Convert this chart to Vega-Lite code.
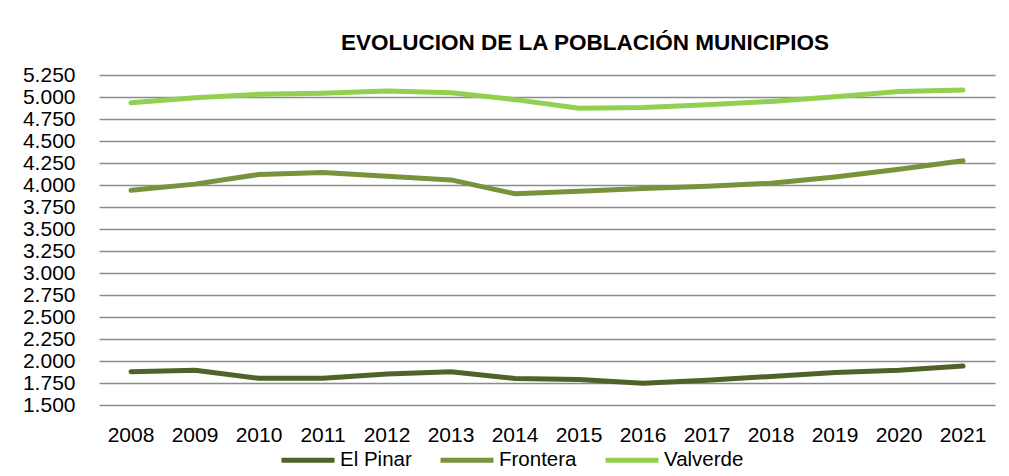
{
  "$schema": "https://vega.github.io/schema/vega-lite/v6.json",
  "width": 896,
  "height": 330,
  "autosize": {"type": "none"},
  "padding": {"left": 99, "top": 75, "right": 14, "bottom": 71},
  "background": "white",
  "title": {
    "text": "EVOLUCION DE LA POBLACIÓN MUNICIPIOS",
    "font": "Liberation Sans",
    "fontSize": 22.5,
    "fontWeight": "bold",
    "color": "#000000",
    "anchor": "middle",
    "dx": 38,
    "offset": 10
  },
  "data": {
    "values": [
      {"year": "2008", "municipio": "El Pinar", "pob": 1878},
      {"year": "2009", "municipio": "El Pinar", "pob": 1896},
      {"year": "2010", "municipio": "El Pinar", "pob": 1803},
      {"year": "2011", "municipio": "El Pinar", "pob": 1805},
      {"year": "2012", "municipio": "El Pinar", "pob": 1852},
      {"year": "2013", "municipio": "El Pinar", "pob": 1878},
      {"year": "2014", "municipio": "El Pinar", "pob": 1802},
      {"year": "2015", "municipio": "El Pinar", "pob": 1790},
      {"year": "2016", "municipio": "El Pinar", "pob": 1746},
      {"year": "2017", "municipio": "El Pinar", "pob": 1780},
      {"year": "2018", "municipio": "El Pinar", "pob": 1825},
      {"year": "2019", "municipio": "El Pinar", "pob": 1870},
      {"year": "2020", "municipio": "El Pinar", "pob": 1895},
      {"year": "2021", "municipio": "El Pinar", "pob": 1943},
      {"year": "2008", "municipio": "Frontera", "pob": 3940},
      {"year": "2009", "municipio": "Frontera", "pob": 4010},
      {"year": "2010", "municipio": "Frontera", "pob": 4120},
      {"year": "2011", "municipio": "Frontera", "pob": 4142},
      {"year": "2012", "municipio": "Frontera", "pob": 4100},
      {"year": "2013", "municipio": "Frontera", "pob": 4058},
      {"year": "2014", "municipio": "Frontera", "pob": 3900},
      {"year": "2015", "municipio": "Frontera", "pob": 3928},
      {"year": "2016", "municipio": "Frontera", "pob": 3960},
      {"year": "2017", "municipio": "Frontera", "pob": 3985},
      {"year": "2018", "municipio": "Frontera", "pob": 4020},
      {"year": "2019", "municipio": "Frontera", "pob": 4092},
      {"year": "2020", "municipio": "Frontera", "pob": 4180},
      {"year": "2021", "municipio": "Frontera", "pob": 4276},
      {"year": "2008", "municipio": "Valverde", "pob": 4935},
      {"year": "2009", "municipio": "Valverde", "pob": 4992},
      {"year": "2010", "municipio": "Valverde", "pob": 5030},
      {"year": "2011", "municipio": "Valverde", "pob": 5042},
      {"year": "2012", "municipio": "Valverde", "pob": 5068},
      {"year": "2013", "municipio": "Valverde", "pob": 5048},
      {"year": "2014", "municipio": "Valverde", "pob": 4970},
      {"year": "2015", "municipio": "Valverde", "pob": 4872},
      {"year": "2016", "municipio": "Valverde", "pob": 4882},
      {"year": "2017", "municipio": "Valverde", "pob": 4912},
      {"year": "2018", "municipio": "Valverde", "pob": 4950},
      {"year": "2019", "municipio": "Valverde", "pob": 5002},
      {"year": "2020", "municipio": "Valverde", "pob": 5062},
      {"year": "2021", "municipio": "Valverde", "pob": 5080}
    ]
  },
  "mark": {"type": "line", "strokeWidth": 5, "strokeCap": "round", "strokeJoin": "round"},
  "encoding": {
    "x": {
      "field": "year",
      "type": "ordinal",
      "scale": {"type": "band", "paddingInner": 0, "paddingOuter": 0},
      "axis": {
        "title": null,
        "labelAngle": 0,
        "ticks": false,
        "domain": false,
        "grid": false,
        "labelFont": "Liberation Sans",
        "labelFontSize": 21,
        "labelColor": "#000000",
        "labelPadding": 19
      }
    },
    "y": {
      "field": "pob",
      "type": "quantitative",
      "scale": {"domain": [1500, 5250], "nice": false, "zero": false},
      "axis": {
        "title": null,
        "values": [1500, 1750, 2000, 2250, 2500, 2750, 3000, 3250, 3500, 3750, 4000, 4250, 4500, 4750, 5000, 5250],
        "labelExpr": "replace(format(datum.value, ','), ',', '.')",
        "ticks": false,
        "domain": false,
        "grid": true,
        "gridColor": "#8c8c8c",
        "gridWidth": 1.6,
        "labelFont": "Liberation Sans",
        "labelFontSize": 21,
        "labelColor": "#000000",
        "labelPadding": 24
      }
    },
    "color": {
      "field": "municipio",
      "type": "nominal",
      "scale": {"domain": ["El Pinar", "Frontera", "Valverde"], "range": ["#4f6228", "#77933c", "#92d050"]},
      "legend": {
        "title": null,
        "orient": "none",
        "direction": "horizontal",
        "legendX": 180,
        "legendY": 356,
        "symbolType": "stroke",
        "symbolSize": 2809,
        "symbolStrokeWidth": 5,
        "labelFont": "Liberation Sans",
        "labelFontSize": 20.5,
        "labelColor": "#000000",
        "labelOffset": 3,
        "columnPadding": 18
      }
    }
  },
  "config": {"view": {"stroke": null}}
}
